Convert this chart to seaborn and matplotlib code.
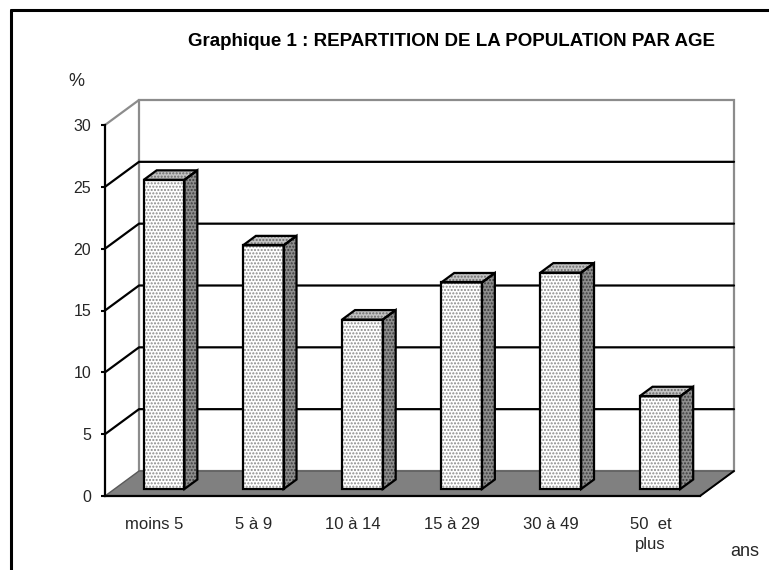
import numpy as np
import pandas as pd
import matplotlib
matplotlib.use("Agg")
import matplotlib.pyplot as plt
import seaborn as sns
from matplotlib.patches import Polygon
from matplotlib.lines import Line2D
from matplotlib.transforms import IdentityTransform, ScaledTranslation

# ---- data ----
categories = ["moins 5", "5 à 9", "10 à 14", "15 à 29", "30 à 49", "50  et\nplus"]
values = [25.0, 19.7, 13.7, 16.7, 17.5, 7.5]
yticks = [0, 5, 10, 15, 20, 25, 30]
title = "Graphique 1 : REPARTITION DE LA POPULATION PAR AGE"

sns.set_theme(style="white")
plt.rcParams['font.family'] = ['Liberation Sans', 'DejaVu Sans']
plt.rcParams['hatch.linewidth'] = 1.0

W, H = 769, 570
DPI = 100
fig = plt.figure(figsize=(W / DPI, H / DPI), dpi=DPI)
fig.patch.set_facecolor("white")
ax = fig.add_axes([105 / W, 74 / H, 595 / W, 371 / H])
ax.set_facecolor("none")

df = pd.DataFrame({"age": categories, "pct": values})
sns.barplot(data=df, x="age", y="pct", ax=ax, width=0.41, color="white",
            saturation=1, edgecolor="#8a8a8a", linewidth=0, zorder=6)
bars = list(ax.patches)

ax.set_xlim(-0.5, 5.5)
ax.set_ylim(0, 30)
ax.set_yticks(yticks)
ax.set_xlabel("")
ax.set_ylabel("")
for s in ["top", "right"]:
    ax.spines[s].set_visible(False)
for s in ["left", "bottom"]:
    ax.spines[s].set_color("black")
    ax.spines[s].set_linewidth(1.6)
    ax.spines[s].set_zorder(8)

ax.set_xticks(np.arange(len(categories)))
ax.set_xticklabels(categories, fontsize=12, linespacing=1.4, va="top")
ax.set_xticks(np.arange(-0.5, len(categories)), minor=True)
ax.tick_params(axis="x", which="major", length=0, pad=15)
ax.tick_params(axis="x", which="minor", length=4.5, width=1.5, color="black", direction="out")
ax.tick_params(axis="y", which="major", length=3, width=1.5, color="black",
               direction="out", labelsize=11.5, pad=7, left=True)
ax.grid(False)

# ---- pseudo 3D geometry (display-pixel depth offsets) ----
DX, DY = 34.0, 25.0
F_FRONT, F_BACK = 0.28, 0.66


def P(x, y, d):
    px, py = ax.transData.transform((x, y))
    return (px + d * DX, py + d * DY)


def poly(pts, **kw):
    p = Polygon(pts, closed=True, transform=IdentityTransform(), clip_on=False, **kw)
    ax.add_patch(p)
    return p


def line(pts, **kw):
    xs = [p[0] for p in pts]
    ys = [p[1] for p in pts]
    l = Line2D(xs, ys, transform=IdentityTransform(), clip_on=False, **kw)
    ax.add_line(l)
    return l


x0, x1 = -0.5, len(categories) - 0.5
ymax = yticks[-1]

# back wall
poly([P(x0, 0, 1), P(x1, 0, 1), P(x1, ymax, 1), P(x0, ymax, 1)],
     facecolor="white", edgecolor="#8c8c8c", linewidth=1.6, zorder=1)
line([P(x0, ymax, 0), P(x0, ymax, 1)], color="#8c8c8c", linewidth=1.6, zorder=1)

# gridlines on side wall and back wall
for yv in yticks[1:-1]:
    line([P(x0, yv, 0), P(x0, yv, 1), P(x1, yv, 1)], color="black", linewidth=1.6, zorder=2)

# floor
poly([P(x0, 0, 0), P(x1, 0, 0), P(x1, 0, 1), P(x0, 0, 1)],
     facecolor="#808080", edgecolor="#5a5a5a", linewidth=1.0, zorder=3)
line([P(x1, 0, 0), P(x1, 0, 1)], color="black", linewidth=1.4, zorder=3)

# bars
off = ScaledTranslation(F_FRONT * DX / DPI, F_FRONT * DY / DPI, fig.dpi_scale_trans)
for b in bars:
    bx, bw, bh = b.get_x(), b.get_width(), b.get_height()
    b.set_transform(ax.transData + off)
    b.set_clip_on(False)
    b.set_hatch(".....")
    b.set_zorder(6)
    side = [P(bx + bw, 0, F_FRONT), P(bx + bw, bh, F_FRONT), P(bx + bw, bh, F_BACK), P(bx + bw, 0, F_BACK)]
    top = [P(bx, bh, F_FRONT), P(bx + bw, bh, F_FRONT), P(bx + bw, bh, F_BACK), P(bx, bh, F_BACK)]
    front = [P(bx, 0, F_FRONT), P(bx + bw, 0, F_FRONT), P(bx + bw, bh, F_FRONT), P(bx, bh, F_FRONT)]
    poly(side, facecolor="#8e8e8e", edgecolor="#3c3c3c", linewidth=0, hatch=".....", zorder=5)
    poly(top, facecolor="#c4c4c4", edgecolor="#6a6a6a", linewidth=0, hatch=".....", zorder=5)
    for pts in (side, top, front):
        poly(pts, facecolor="none", edgecolor="black", linewidth=1.6, joinstyle="miter", zorder=7)

# ---- texts ----
fig.text(451 / W, 1 - 41 / H, title, fontsize=13.5, fontweight="bold",
         ha="center", va="center", color="black")
fig.text(76 / W, 1 - 82 / H, "%", fontsize=13, ha="center", va="center")
fig.text(730 / W, 1 - 552 / H, "ans", fontsize=13, ha="left", va="center")

# frame (left and top edges)
fig.add_artist(Line2D([10.5 / W, 10.5 / W], [0, 1 - 9.5 / H], transform=fig.transFigure,
                      color="black", linewidth=2.2))
fig.add_artist(Line2D([10.5 / W, 1], [1 - 9.5 / H, 1 - 9.5 / H], transform=fig.transFigure,
                      color="black", linewidth=2.2))

fig.savefig("out.png", dpi=DPI, facecolor="white")
